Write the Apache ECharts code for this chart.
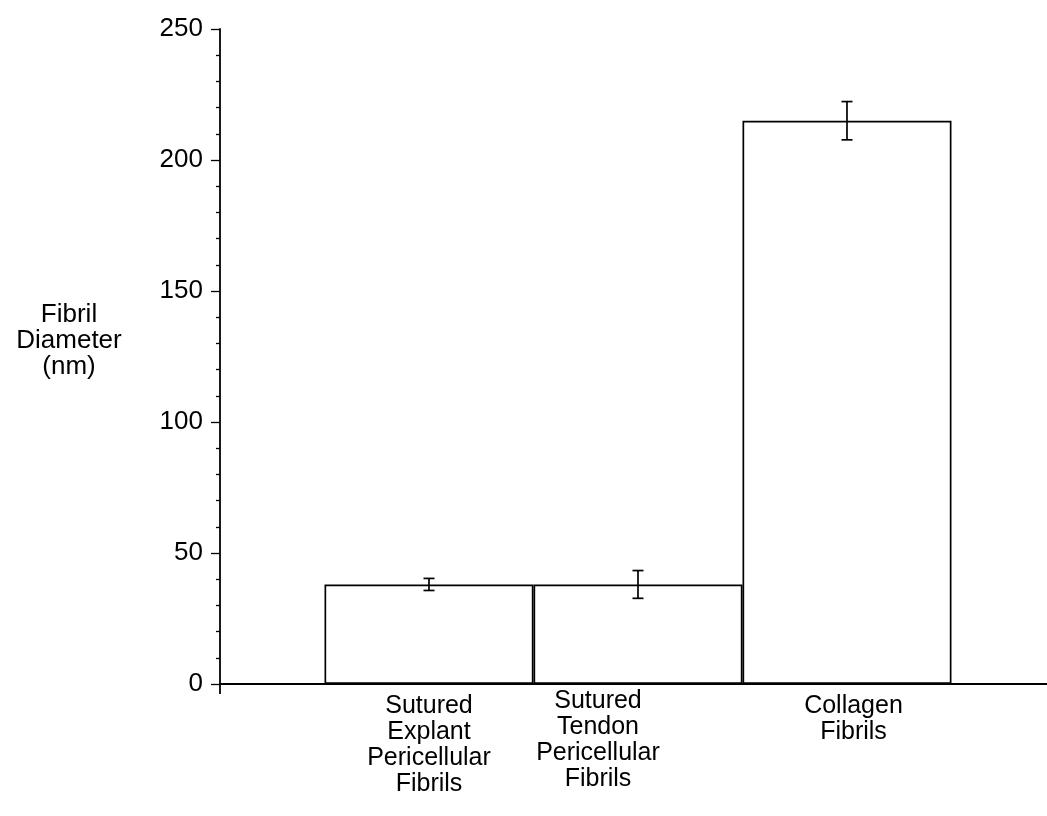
<!DOCTYPE html>
<html>
<head>
<meta charset="utf-8">
<script src="https://cdn.jsdelivr.net/npm/echarts@6/dist/echarts.min.js"></script>
<style>html,body{margin:0;padding:0;background:#fff}#c{width:1047px;height:816px}</style>
</head>
<body>
<div id="c"></div>
<script>
var categories = ['Sutured\nExplant\nPericellular\nFibrils', 'Sutured\nTendon\nPericellular\nFibrils', 'Collagen\nFibrils'];
var positions = [1, 2, 3];
var means = [38, 38, 215];
var errors = [2.3, 5.3, 7.3];
var yTicks = [0, 50, 100, 150, 200, 250];
var yTitleLines = ['Fibril', 'Diameter', '(nm)'];

var FONT = 'Liberation Sans, Arial, sans-serif';
var chart = echarts.init(document.getElementById('c'), null, {renderer: 'canvas'});
var XMAX = 3.957;

var barData = positions.map(function (p, i) { return [p, means[i]]; });
var errData = positions.map(function (p, i) { return [p, means[i], errors[i]]; });

var labelStyles = ['a', 'b', 'c'];
var option = {
  backgroundColor: '#fff',
  animation: false,
  grid: {left: 220, right: 0, top: 29, bottom: 132, containLabel: false},
  xAxis: {
    type: 'value', min: 0, max: XMAX, interval: 1,
    axisLine: {show: true, onZero: false, lineStyle: {color: '#000', width: 1.8}},
    axisTick: {show: false},
    splitLine: {show: false},
    axisLabel: {
      show: true, margin: 4, showMaxLabel: false, showMinLabel: false,
      fontFamily: FONT, fontSize: 25, color: '#000', lineHeight: 26, align: 'center',
      formatter: function (v) {
        var i = positions.indexOf(v);
        if (i < 0) return '';
        var s = labelStyles[i];
        var lines = categories[i].split('\n').map(function (l) { return '{' + s + '|' + l + '}'; });
        if (s !== 'b') lines.unshift('{sp| }');
        return lines.join('\n');
      },
      rich: {
        sp: {fontSize: 1, lineHeight: 5, height: 5},
        a: {fontFamily: FONT, fontSize: 25, lineHeight: 26, color: '#000', padding: [0, 0, 0, 0]},
        b: {fontFamily: FONT, fontSize: 25, lineHeight: 26, color: '#000', padding: [0, 80, 0, 0]},
        c: {fontFamily: FONT, fontSize: 25, lineHeight: 26, color: '#000', padding: [0, 0, 0, 13]}
      }
    }
  },
  yAxis: {
    type: 'value', min: yTicks[0], max: yTicks[yTicks.length - 1], interval: 50,
    axisLine: {show: true, lineStyle: {color: '#000', width: 1.8}},
    axisTick: {show: true, length: 9, lineStyle: {color: '#000', width: 1.3}},
    minorTick: {show: true, splitNumber: 5, length: 4, lineStyle: {color: '#000', width: 1.3}},
    splitLine: {show: false},
    axisLabel: {margin: 17, fontFamily: FONT, fontSize: 26, color: '#000'},
    name: yTitleLines.map(function (l) { return '{t|' + l + '}'; }).join('\n') + '\n{sp| }',
    nameLocation: 'middle', nameRotate: 0, nameGap: 151,
    nameTextStyle: {
      fontFamily: FONT, fontSize: 26, color: '#000', lineHeight: 26, align: 'center', verticalAlign: 'middle',
      rich: {
        t: {fontFamily: FONT, fontSize: 26, lineHeight: 26, color: '#000'},
        sp: {fontSize: 1, lineHeight: 32, height: 32}
      }
    }
  },
  series: [{
    type: 'bar', data: barData, barWidth: 209,
    itemStyle: {color: '#fff', borderColor: '#000', borderWidth: 1.7},
    z: 2
  }, {
    type: 'custom', data: errData, z: 5,
    renderItem: function (params, api) {
      var x = api.value(0), m = api.value(1), e = api.value(2);
      var top = api.coord([x, m + e]);
      var bot = api.coord([x, m - e]);
      var hw = 5.5;
      var st = {stroke: '#000', lineWidth: 1.7};
      return {type: 'group', children: [
        {type: 'line', shape: {x1: top[0], y1: top[1], x2: bot[0], y2: bot[1]}, style: st},
        {type: 'line', shape: {x1: top[0] - hw, y1: top[1], x2: top[0] + hw, y2: top[1]}, style: st},
        {type: 'line', shape: {x1: bot[0] - hw, y1: bot[1], x2: bot[0] + hw, y2: bot[1]}, style: st}
      ]};
    }
  }, {
    type: 'custom', data: [[0, 0]], z: 5, silent: true,
    renderItem: function (params, api) {
      var p = api.coord([api.value(0), api.value(1)]);
      return {type: 'line', shape: {x1: p[0], y1: p[1], x2: p[0], y2: p[1] + 10}, style: {stroke: '#000', lineWidth: 1.8}};
    }
  }]
};
chart.setOption(option);
</script>
</body>
</html>
